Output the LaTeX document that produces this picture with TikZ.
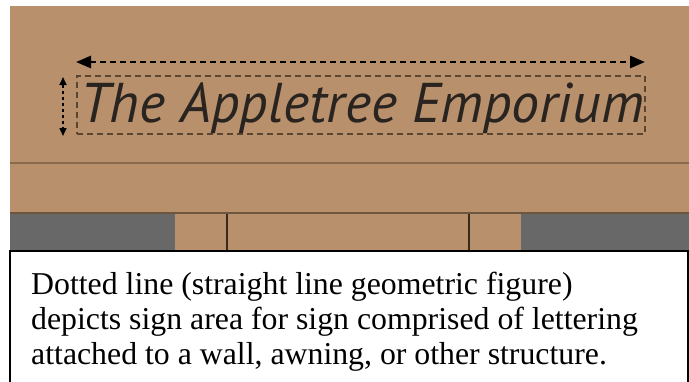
\documentclass[tikz,border=0pt]{standalone}
\usepackage{fontspec}
\setmainfont{Liberation Serif}
\newfontfamily\signfont{PT Sans}
\usepackage{tikz}
\usetikzlibrary{arrows.meta, calc}
\definecolor{wallbrown}{HTML}{B8906C}
\definecolor{trimline}{HTML}{8A6A4C}
\definecolor{panelgray}{HTML}{686868}
\definecolor{postline}{HTML}{3A2A1C}
\definecolor{inkdark}{HTML}{2A2420}
\definecolor{boxdash}{HTML}{5A4530}

\begin{document}
\begin{tikzpicture}[
        x=1pt, y=-1pt,
        signtext/.style = {font=\signfont\itshape\fontsize{56}{60}\selectfont, text=inkdark, inner sep=0pt},
        areabox/.style = {draw=boxdash, line width=1.3pt, dash pattern=on 6pt off 4pt, minimum width=568pt, minimum height=58pt, inner sep=0pt},
        widtharrow/.style = {{Triangle[length=15pt, width=12pt]}-{Triangle[length=15pt, width=12pt]}, line width=2.6pt, dash pattern=on 6pt off 4pt, black},
        heightarrow/.style = {{Triangle[length=8pt, width=7pt]}-{Triangle[length=8pt, width=7pt]}, line width=1.6pt, dash pattern=on 3pt off 3pt, black},
        notetext/.style = {font=\fontsize{31.8}{35}\selectfont, align=left, inner sep=0pt, anchor=base west},
    ]
        \clip (0,0) rectangle (689,381);
        \fill[white] (0,0) rectangle (689,381);
        % wall and trim
        \fill[wallbrown] (10,6) rectangle (689,251);
        \draw[trimline, line width=1.5pt] (10,163) -- (689,163);
        \draw[trimline!80!black, line width=1.2pt] (10,213) -- (689,213);
        \fill[panelgray] (10,214) rectangle (175,251);
        \fill[panelgray] (521,214) rectangle (689,251);
        \draw[postline, line width=2pt] (227,214) -- (227,251);
        \draw[postline, line width=2pt] (469,214) -- (469,251);

        % sign area
        \node[areabox] (area) at (361,105) {};
        \node[signtext, anchor=base west] (sign) at (80,122) {The Appletree Emporium};
        \coordinate (wl) at (76,62);
        \coordinate (wr) at (645,62);
        \coordinate (ht) at (63,77);
        \coordinate (hb) at (63,136);
        \draw[widtharrow] (wl) -- (wr);
        \draw[heightarrow] (ht) -- (hb);

        % caption
        \draw[fill=white, line width=2pt] (10,251) rectangle (688,395);
        \node[notetext] (note) at (31,364) {Dotted line (straight line geometric figure)\\depicts sign area for sign comprised of lettering\\attached to a wall, awning, or other structure.};
    \end{tikzpicture}
\end{document}
